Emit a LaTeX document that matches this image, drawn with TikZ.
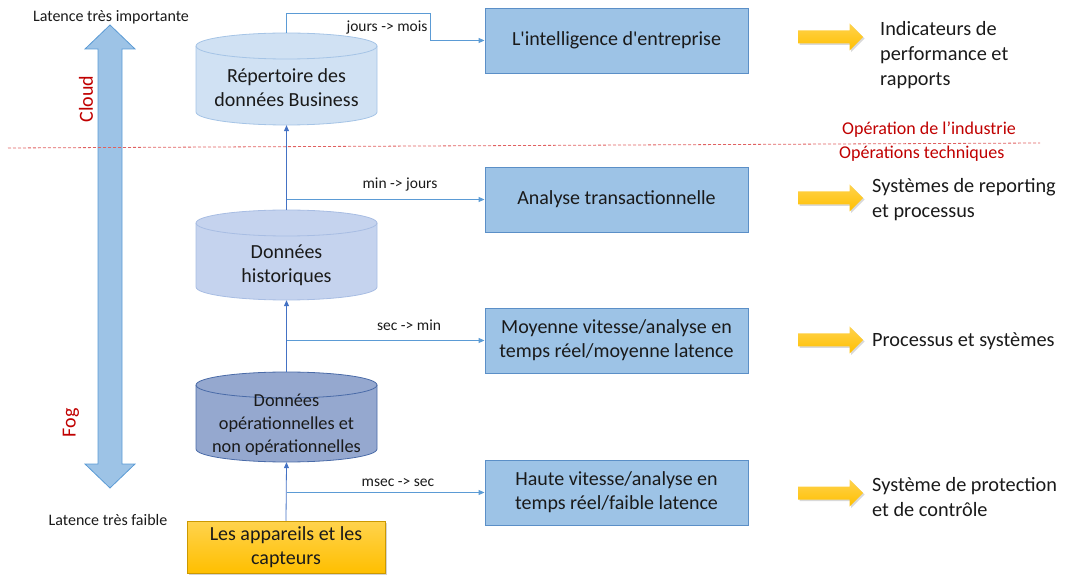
\documentclass[tikz,border=0pt]{standalone}
\usepackage{fontspec}
\setmainfont{Carlito}
\newfontfamily\calfont{Carlito}
\usetikzlibrary{shadows,arrows.meta}
\definecolor{boxfill}{HTML}{9DC3E6}
\definecolor{boxdraw}{HTML}{5B8FC7}
\definecolor{cylA}{HTML}{D0E1F3}
\definecolor{cylAd}{HTML}{A5C4E6}
\definecolor{cylB}{HTML}{C5D3EE}
\definecolor{cylBd}{HTML}{A8BDE3}
\definecolor{cylC}{HTML}{95A8CF}
\definecolor{cylCd}{HTML}{4A6BA8}
\definecolor{lineblue}{HTML}{4472C4}
\definecolor{linelight}{HTML}{5B9BD5}
\definecolor{redtxt}{HTML}{C00000}
\definecolor{reddash}{HTML}{E06060}
\definecolor{yelA}{HTML}{FFD34D}
\definecolor{yelB}{HTML}{FFBF00}
\definecolor{txt}{HTML}{1A1A1A}
\definecolor{bigfill}{HTML}{9DC3E6}
\definecolor{bigdraw}{HTML}{5B9BD5}
\begin{document}
\begin{tikzpicture}[x=1pt,y=1pt,
  bigtxt/.style={font=\calfont\fontsize{20}{24}\selectfont, text=txt, align=center},
  lbl/.style={font=\calfont\fontsize{15.5}{18}\selectfont, text=txt, inner sep=0},
  redlbl/.style={font=\calfont\fontsize{18}{21}\selectfont, text=redtxt, inner sep=0},
  sidetxt/.style={font=\calfont\fontsize{20.3}{25}\selectfont, text=txt, align=left, anchor=west, inner sep=0},
  box/.style={draw=boxdraw, fill=boxfill, line width=0.9pt, minimum width=263pt, minimum height=65pt, bigtxt, inner sep=0},
  geom/.style={draw=none, inner sep=0, minimum width=181pt},
  dev/.style={draw=yelB!80!black, line width=0.5pt, top color=yelA, bottom color=yelB, minimum width=198pt, minimum height=52pt, bigtxt, inner sep=0,
     drop shadow={shadow xshift=1.5pt, shadow yshift=-1.5pt, opacity=0.35}},
  yarrowfill/.style={top color=yelA, bottom color=yelB, drop shadow={shadow xshift=1.5pt, shadow yshift=-1.5pt, opacity=0.3}},
  yarr/.pic={\path[yarrowfill] (-32.5,-6.5) -- (19,-6.5) -- (19,-13.5) -- (32.5,0) -- (19,13.5) -- (19,6.5) -- (-32.5,6.5) -- cycle;},
  vconn/.style={draw=lineblue, line width=0.8pt, -{Triangle[length=6pt,width=5pt]}},
  hconn/.style={draw=linelight, line width=0.9pt, -{Triangle[length=6pt,width=5pt]}}
]
\useasboundingbox (0,0) rectangle (1065,576);

% big double arrow
\draw[fill=bigfill, draw=bigdraw, line width=0.8pt]
  (110,551) -- (135,527) -- (122,527) -- (122,112) -- (135,112) -- (110,88)
  -- (85,112) -- (98,112) -- (98,527) -- (85,527) -- cycle;
\node[lbl, font=\calfont\fontsize{16}{18}\selectfont] (lt) at (111,559) {Latence très importante};
\node[lbl, font=\calfont\fontsize{16}{18}\selectfont] (lf) at (108,56) {Latence très faible};
\node[font=\calfont\fontsize{20}{24}\selectfont, text=redtxt, rotate=90, inner sep=0] (cloud) at (86,477) {Cloud};
\node[font=\calfont\fontsize{20}{24}\selectfont, text=redtxt, rotate=90, inner sep=0] (fog) at (71,153) {Fog};

% red dashed separation
\draw[reddash, line width=0.8pt, dash pattern=on 3pt off 2pt] (8,428) -- (1040,433);
\node[redlbl, anchor=west] (oi) at (842,446) {Opération de l’industrie};
\node[redlbl, anchor=west] (ot) at (839,422) {Opérations techniques};

% cylinders
\path[fill=cylA, draw=cylAd, line width=0.8pt] (196,530) -- (196,464)
  arc[start angle=180,end angle=360,x radius=90.5pt,y radius=13pt] -- (377,530)
  arc[start angle=0,end angle=180,x radius=90.5pt,y radius=13pt] -- cycle;
\draw[cylAd, line width=0.8pt] (196,530) arc[start angle=180,end angle=360,x radius=90.5pt,y radius=13pt];

\path[fill=cylB, draw=cylBd, line width=0.8pt] (196,353) -- (196,289)
  arc[start angle=180,end angle=360,x radius=90.5pt,y radius=13pt] -- (377,353)
  arc[start angle=0,end angle=180,x radius=90.5pt,y radius=13pt] -- cycle;
\draw[cylBd, line width=0.8pt] (196,353) arc[start angle=180,end angle=360,x radius=90.5pt,y radius=13pt];

\path[fill=cylC, draw=cylCd, line width=0.8pt] (196,191) -- (196,127)
  arc[start angle=180,end angle=360,x radius=90.5pt,y radius=13pt] -- (377,191)
  arc[start angle=0,end angle=180,x radius=90.5pt,y radius=13pt] -- cycle;
\draw[cylCd, line width=0.8pt] (196,191) arc[start angle=180,end angle=360,x radius=90.5pt,y radius=13pt];

\node[geom, minimum height=92pt] (c1) at (286.5,497) {};
\node[geom, minimum height=90pt] (c2) at (286.5,321) {};
\node[geom, minimum height=90pt] (c3) at (286.5,159) {};
\node[bigtxt] (t1) at (286.5,488.5) {Répertoire des\\données Business};
\node[bigtxt] (t2) at (286.5,311) {Données\\historiques};
\node[font=\calfont\fontsize{18.3}{23}\selectfont, text=txt, align=center] (t3) at (286.5,151) {Données\\opérationnelles et\\non opérationnelles};

% devices
\node[dev] (dev) at (286,29) {Les appareils et les\\capteurs};

% boxes
\node[box] (b1) at (616.5,535.5) {L'intelligence d'entreprise};
\node[box] (b2) at (616.5,376.5) {Analyse transactionnelle};
\node[box] (b3) at (616.5,235.5) {Moyenne vitesse/analyse en\\temps réel/moyenne latence};
\node[box] (b4) at (616.5,83.5) {Haute vitesse/analyse en\\temps réel/faible latence};

% connectors
\coordinate (k1) at (430,563);
\draw[hconn] (c1.north) |- (k1) |- (b1.west);
\node[lbl] (l1) at (387,548) {jours -> mois};

\draw[vconn] (c2.north) -- (c1.south);
\draw[vconn] (c3.north) -- (c2.south);
\draw[vconn] (dev.north) -- (c3.south);

\coordinate (j2) at (c1.south |- b2.west);
\coordinate (j3) at (c1.south |- b3.west);
\coordinate (j4) at (c1.south |- b4.west);
\draw[hconn] (j2) -- (b2.west);
\draw[hconn] (j3) -- (b3.west);
\draw[hconn] (j4) -- (b4.west);
\node[lbl] (l2) at (400,392) {min -> jours};
\node[lbl] (l3) at (409,251) {sec -> min};
\node[lbl] (l4) at (398,94) {msec -> sec};

% yellow arrows and side texts
\pic at (830.5,539) {yarr};
\pic at (830.5,378) {yarr};
\pic at (830.5,236) {yarr};
\pic at (830.5,83) {yarr};
\node[sidetxt] (s1) at (880,521) {Indicateurs de\\performance et\\rapports};
\node[sidetxt] (s2) at (872,376) {Systèmes de reporting\\et processus};
\node[sidetxt] (s3) at (872,235) {Processus et systèmes};
\node[sidetxt] (s4) at (872,79) {Système de protection\\et de contrôle};
\end{tikzpicture}
\end{document}
